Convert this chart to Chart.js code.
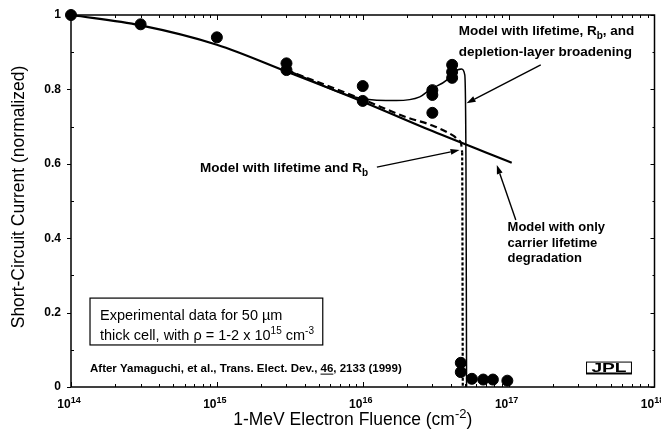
<!DOCTYPE html>
<html>
<head>
<meta charset="utf-8">
<script src="https://cdn.jsdelivr.net/npm/chart.js@4"></script>
<style>
html, body { margin: 0; padding: 0; background: #fff; }
</style>
</head>
<body>
<canvas id="myChart" width="661" height="431"></canvas>
<script>
// tick values
const fluenceTicks = [1e14, 1e15, 1e16, 1e17, 1e18]
const currentTicks = [0, 0.2, 0.4, 0.6, 0.8, 1]
const currentLabels = ['0', '0.2', '0.4', '0.6', '0.8', '1']

// experimental points
const expFluence = [1e14, 3e14, 1e15, 3e15, 3e15, 1e16, 1e16, 3e16, 3e16, 3e16, 4.1e16, 4.1e16, 4.1e16,
    4.7e16, 4.7e16, 5.6e16, 6.7e16, 7.8e16, 9.8e16]
const expCurrent = [1.0, 0.975, 0.94, 0.87, 0.852, 0.809, 0.769, 0.798, 0.785, 0.737, 0.866, 0.847, 0.831,
    0.065, 0.04, 0.022, 0.02, 0.02, 0.017]

// model: only carrier lifetime degradation
const lifeFluence = [1e14, 3e14, 1e15, 3e15, 1e16, 3e16, 1.05e17]
const lifeCurrent = [1.0, 0.972, 0.92, 0.848, 0.767, 0.688, 0.603]

// model: lifetime and Rb
const rbFluence = [3e15, 1e16, 2e16, 3e16, 4.2e16, 4.6e16, 4.8e16, 4.85e16]
const rbCurrent = [0.852, 0.773, 0.725, 0.703, 0.675, 0.662, 0.63, 0]

// model: lifetime, Rb and depletion-layer broadening
const dlbFluence = [3e15, 1e16, 1.7e16, 2.46e16, 2.9e16, 3.76e16, 4.13e16, 4.76e16, 5.0e16, 5.1e16, 5.15e16]
const dlbCurrent = [0.852, 0.775, 0.77, 0.78, 0.80, 0.825, 0.845, 0.855, 0.84, 0.6, 0]

const FONT = '"Liberation Sans", Arial, Helvetica, sans-serif'

const pts = (xs, ys) => xs.map((x, i) => ({ x: x, y: ys[i] }))

// text annotations, placed in data coordinates
const notes = [
    { x: 4.55e16, y: 0.946, gap: 21, size: 13.5, weight: 'bold', lines: [
        [{ t: 'Model with lifetime, R' }, { t: 'b', s: 'sub' }, { t: ', and' }],
        [{ t: 'depletion-layer broadening' }]] },
    { x: 7.66e14, y: 0.578, gap: 0, size: 13.5, weight: 'bold', lines: [
        [{ t: 'Model with lifetime and R' }, { t: 'b', s: 'sub' }]] },
    { x: 9.84e16, y: 0.419, gap: 15.5, size: 13, weight: 'bold', lines: [
        [{ t: 'Model with only' }], [{ t: 'carrier lifetime' }], [{ t: 'degradation' }]] },
    { x: 1.58e14, y: 0.18, gap: 20, size: 14.5, weight: 'normal', lines: [
        [{ t: 'Experimental data for 50 \u00b5m' }],
        [{ t: 'thick cell, with \u03c1 = 1-2 x 10' }, { t: '15', s: 'sup' }, { t: ' cm' }, { t: '-3', s: 'sup' }]] },
    { x: 1.35e14, y: 0.04, gap: 0, size: 11.5, weight: 'bold', lines: [
        [{ t: 'After Yamaguchi, et al., Trans. Elect. Dev., ' }, { t: '46', u: true }, { t: ', 2133 (1999)' }]] }
]

const arrows = [
    { from: [1.66e17, 0.866], to: [5.15e16, 0.763] },
    { from: [1.25e16, 0.591], to: [4.61e16, 0.637] },
    { from: [1.12e17, 0.449], to: [8.3e16, 0.597] }
]

const legendBox = { x1: 1.35e14, y1: 0.239, x2: 5.32e15, y2: 0.113 }
const logoBox = { x1: 3.42e17, y1: 0.067, x2: 6.95e17, y2: 0.035 }

function partFont(p, size, weight) {
    const fs = p.s ? Math.round(size * 0.72) : size
    return weight + ' ' + fs + 'px ' + FONT
}

function richWidth(ctx, parts, size, weight) {
    let w = 0
    parts.forEach(p => {
        ctx.font = partFont(p, size, weight)
        w += ctx.measureText(p.t).width
    })
    return w
}

function drawRich(ctx, parts, x, y, size, weight, align) {
    let cx = x
    if (align === 'center') cx = x - richWidth(ctx, parts, size, weight) / 2
    ctx.textBaseline = 'alphabetic'
    ctx.textAlign = 'left'
    parts.forEach(p => {
        ctx.font = partFont(p, size, weight)
        let dy = 0
        if (p.s === 'sup') dy = -size * 0.42
        if (p.s === 'sub') dy = size * 0.28
        ctx.fillText(p.t, cx, y + dy)
        const w = ctx.measureText(p.t).width
        if (p.u) {
            ctx.fillRect(cx, y + 1.5, w, 1)
        }
        cx += w
    })
}

function arrow(ctx, x1, y1, x2, y2) {
    const ang = Math.atan2(y2 - y1, x2 - x1)
    const len = 9, half = 3
    const bx = x2 - len * Math.cos(ang), by = y2 - len * Math.sin(ang)
    ctx.beginPath()
    ctx.moveTo(x1, y1)
    ctx.lineTo(bx, by)
    ctx.stroke()
    ctx.beginPath()
    ctx.moveTo(x2, y2)
    ctx.lineTo(bx + half * Math.sin(ang), by - half * Math.cos(ang))
    ctx.lineTo(bx - half * Math.sin(ang), by + half * Math.cos(ang))
    ctx.closePath()
    ctx.fill()
}

const overlay = {
    id: 'overlay',
    afterDraw(chart) {
        const ctx = chart.ctx
        const a = chart.chartArea
        const xs = chart.scales.x
        const ys = chart.scales.y
        ctx.save()
        ctx.strokeStyle = '#000'
        ctx.fillStyle = '#000'

        // frame
        ctx.lineWidth = 1.5
        ctx.strokeRect(a.left, a.top, a.right - a.left, a.bottom - a.top)

        // y ticks
        ctx.lineWidth = 1
        for (let i = 0; i <= 10; i++) {
            const py = Math.round(ys.getPixelForValue(i / 10)) + 0.5
            const major = i % 2 === 0
            ctx.beginPath()
            if (major) {
                ctx.moveTo(a.left - 4, py); ctx.lineTo(a.left, py)
            } else {
                ctx.moveTo(a.left, py); ctx.lineTo(a.left + 3, py)
            }
            ctx.moveTo(a.right, py); ctx.lineTo(a.right - (major ? 4 : 2), py)
            ctx.stroke()
        }

        // x ticks (log minor)
        for (let d = 14; d < 18; d++) {
            for (let m = 1; m < 10; m++) {
                const px = Math.round(xs.getPixelForValue(m * Math.pow(10, d))) + 0.5
                const l = m === 1 ? 5 : 3
                ctx.beginPath()
                ctx.moveTo(px, a.bottom); ctx.lineTo(px, a.bottom - l)
                ctx.moveTo(px, a.top); ctx.lineTo(px, a.top + l)
                ctx.stroke()
            }
        }

        // x tick labels
        fluenceTicks.forEach(v => {
            const px = xs.getPixelForValue(v)
            const exp = String(Math.round(Math.log10(v)))
            drawRich(ctx, [{ t: '10' }, { t: exp, s: 'sup' }], px - 2, a.bottom + 21, 12, 'bold', 'center')
        })

        // axis titles
        drawRich(ctx, [{ t: '1-MeV Electron Fluence (cm' }, { t: '-2', s: 'sup' }, { t: ')' }],
            (a.left + a.right) / 2 - 10, a.bottom + 38, 17.5, 'normal', 'center')
        ctx.save()
        ctx.translate(24, (a.top + a.bottom) / 2 - 4)
        ctx.rotate(-Math.PI / 2)
        drawRich(ctx, [{ t: 'Short-Circuit Current (normalized)' }], 0, 0, 17.5, 'normal', 'center')
        ctx.restore()

        // legend box
        ctx.lineWidth = 1.2
        const bx1 = xs.getPixelForValue(legendBox.x1), by1 = ys.getPixelForValue(legendBox.y1)
        const bx2 = xs.getPixelForValue(legendBox.x2), by2 = ys.getPixelForValue(legendBox.y2)
        ctx.strokeRect(bx1, by1, bx2 - bx1, by2 - by1)

        // notes
        notes.forEach(n => {
            const px = xs.getPixelForValue(n.x)
            const py = ys.getPixelForValue(n.y)
            n.lines.forEach((ln, i) => drawRich(ctx, ln, px, py + i * n.gap, n.size, n.weight, 'left'))
        })

        // arrows
        ctx.lineWidth = 1.4
        arrows.forEach(ar => {
            arrow(ctx, xs.getPixelForValue(ar.from[0]), ys.getPixelForValue(ar.from[1]),
                xs.getPixelForValue(ar.to[0]), ys.getPixelForValue(ar.to[1]))
        })

        // JPL logo
        const lx1 = xs.getPixelForValue(logoBox.x1), ly1 = ys.getPixelForValue(logoBox.y1)
        const lx2 = xs.getPixelForValue(logoBox.x2), ly2 = ys.getPixelForValue(logoBox.y2)
        ctx.fillRect(lx1, ly2 - 1.5, lx2 - lx1, 1.5)
        ctx.font = 'bold 12px ' + FONT
        ctx.textAlign = 'center'
        ctx.textBaseline = 'alphabetic'
        ctx.save()
        ctx.translate((lx1 + lx2) / 2, ly2 - 2)
        ctx.scale(1.6, 1)
        ctx.fillText('JPL', 0, 0)
        ctx.restore()
        ctx.lineWidth = 1
        ctx.strokeRect(lx1, ly1, lx2 - lx1, ly2 - ly1)

        ctx.restore()
    }
}

const ctx = document.getElementById('myChart')

new Chart(ctx, {
    type: 'scatter',
    data: {
        datasets: [{
            label: 'Experimental',
            data: pts(expFluence, expCurrent),
            pointRadius: 5.5,
            pointBackgroundColor: '#000',
            pointBorderColor: '#000',
            showLine: false,
            clip: false,
            order: 0
        }, {
            label: 'Model with only carrier lifetime degradation',
            data: pts(lifeFluence, lifeCurrent),
            showLine: true,
            pointRadius: 0,
            borderColor: '#000',
            borderWidth: 2.2,
            cubicInterpolationMode: 'monotone',
            order: 1
        }, {
            label: 'Model with lifetime and Rb',
            data: pts(rbFluence, rbCurrent),
            showLine: true,
            pointRadius: 0,
            borderColor: '#000',
            borderWidth: 2.2,
            borderDash: [7, 4],
            cubicInterpolationMode: 'monotone',
            segment: {
                borderDash: c => c.p1DataIndex === rbFluence.length - 1 ? [3, 2] : undefined
            },
            order: 2
        }, {
            label: 'Model with lifetime, Rb, and depletion-layer broadening',
            data: pts(dlbFluence, dlbCurrent),
            showLine: true,
            pointRadius: 0,
            borderColor: '#000',
            borderWidth: 1.5,
            cubicInterpolationMode: 'monotone',
            order: 3
        }]
    },
    options: {
        responsive: false,
        animation: false,
        layout: { padding: { top: 15, right: 6, left: 0, bottom: 0 } },
        plugins: { legend: { display: false }, tooltip: { enabled: false } },
        scales: {
            x: {
                type: 'logarithmic',
                min: 1e14,
                max: 1e18,
                grid: { display: false, drawTicks: false },
                border: { display: false },
                ticks: { display: false },
                afterFit(s) { s.height = 44; s.paddingLeft = 0; s.paddingRight = 0 }
            },
            y: {
                min: 0,
                max: 1,
                afterBuildTicks(s) { s.ticks = currentTicks.map(v => ({ value: v })) },
                ticks: {
                    color: '#000',
                    padding: 10,
                    font: { family: FONT, size: 12, weight: 'bold' },
                    callback: (v) => currentLabels[currentTicks.indexOf(v)]
                },
                grid: { display: false, drawTicks: false },
                border: { display: false },
                afterFit(s) { s.width = 71; s.paddingTop = 0; s.paddingBottom = 0 }
            }
        }
    },
    plugins: [overlay]
})
</script>
</body>
</html>
